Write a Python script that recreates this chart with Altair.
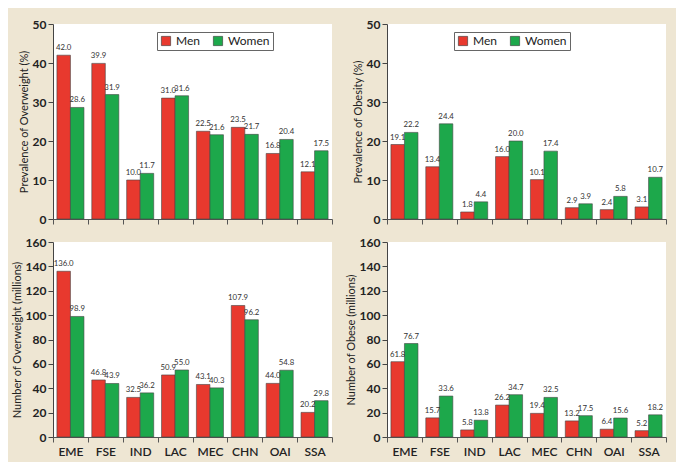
import altair as alt
import pandas as pd

categories = ["EME", "FSE", "IND", "LAC", "MEC", "CHN", "OAI", "SSA"]
groups = ["Men", "Women"]

ow_prev_men = [42.0, 39.9, 10.0, 31.0, 22.5, 23.5, 16.8, 12.1]
ow_prev_women = [28.6, 31.9, 11.7, 31.6, 21.6, 21.7, 20.4, 17.5]
ob_prev_men = [19.1, 13.4, 1.8, 16.0, 10.1, 2.9, 2.4, 3.1]
ob_prev_women = [22.2, 24.4, 4.4, 20.0, 17.4, 3.9, 5.8, 10.7]
ow_num_men = [136.0, 46.8, 32.5, 50.9, 43.1, 107.9, 44.0, 20.2]
ow_num_women = [98.9, 43.9, 36.2, 55.0, 40.3, 96.2, 54.8, 29.8]
ob_num_men = [61.8, 15.7, 5.8, 26.2, 19.4, 13.2, 6.4, 5.2]
ob_num_women = [76.7, 33.6, 13.8, 34.7, 32.5, 17.5, 15.6, 18.2]

RED = "#E8392E"
GREEN = "#1DA84B"
FONT = "Lato"


def frame(men, women):
    rows = []
    for c, m, w in zip(categories, men, women):
        rows.append({"region": c, "sex": "Men", "value": m})
        rows.append({"region": c, "sex": "Women", "value": w})
    return pd.DataFrame(rows)


def panel(men, women, ytitle, ymax, step, show_labels, legend_x=None):
    df = frame(men, women)
    base = alt.Chart(df).encode(
        x=alt.X(
            "region:N",
            sort=categories,
            scale=alt.Scale(paddingInner=0, paddingOuter=0),
            axis=alt.Axis(
                title=None,
                labels=show_labels,
                tickBand="extent",
                labelAngle=0,
                labelFont=FONT,
                labelFontSize=12,
                labelFontWeight=600,
                labelColor="#222",
                labelPadding=4,
                tickSize=5,
                tickColor="#555",
                domainColor="#555",
                ticks=True,
            ),
        ),
        xOffset=alt.XOffset(
            "sex:N", sort=groups, scale=alt.Scale(paddingOuter=0.29, paddingInner=0)
        ),
        y=alt.Y(
            "value:Q",
            scale=alt.Scale(domain=[0, ymax], nice=False),
            axis=alt.Axis(
                title=ytitle,
                values=list(range(0, ymax + 1, step)),
                grid=False,
                tickSize=5,
                tickColor="#444",
                domainColor="#444",
                labelFont=FONT,
                labelFontSize=12,
                labelFontWeight="bold",
                labelColor="#222",
                labelPadding=2,
                titleFont=FONT,
                titleFontSize=11,
                titleFontWeight="normal",
                titleColor="#222",
                titlePadding=3,
            ),
        ),
    )
    if legend_x is not None:
        legend = alt.Legend(
            title=None,
            orient="none",
            legendX=legend_x,
            legendY=8,
            direction="horizontal",
            fillColor="white",
            strokeColor="#666",
            padding=3,
            symbolType="square",
            symbolSize=85,
            symbolStrokeColor="#333",
            symbolStrokeWidth=0.6,
            labelFont=FONT,
            labelFontSize=12,
            labelColor="#222",
            columnPadding=12,
            labelOffset=4,
        )
    else:
        legend = None
    bars = base.mark_bar(stroke="#444", strokeWidth=0.6).encode(
        color=alt.Color(
            "sex:N",
            scale=alt.Scale(domain=groups, range=[RED, GREEN]),
            legend=legend,
        )
    )
    labels = base.mark_text(
        baseline="bottom", dy=-3, fontSize=7.8, font=FONT, color="#333"
    ).encode(text=alt.Text("value:Q", format=".1f"))
    return (bars + labels).properties(width=279, height=195)


p1 = panel(ow_prev_men, ow_prev_women, "Prevalence of Overweight (%)", 50, 10, False, 104)
p2 = panel(ob_prev_men, ob_prev_women, "Prevalence of Obesity (%)", 50, 10, False, 67)
p3 = panel(ow_num_men, ow_num_women, "Number of Overweight (millions)", 160, 20, True)
p4 = panel(ob_num_men, ob_num_women, "Number of Obese (millions)", 160, 20, True)

chart = (
    alt.concat(p1, p2, p3, p4, columns=2, spacing={"row": 23, "column": 55}, bounds="flush")
    .resolve_scale(color="independent")
    .properties(
        background="#EEE6D3",
        padding={"left": 3, "top": 10, "right": 9, "bottom": 5},
    )
    .configure_view(fill="white", strokeWidth=0)
)

chart.save("out.html", embed_options={"renderer": "svg", "actions": False})
